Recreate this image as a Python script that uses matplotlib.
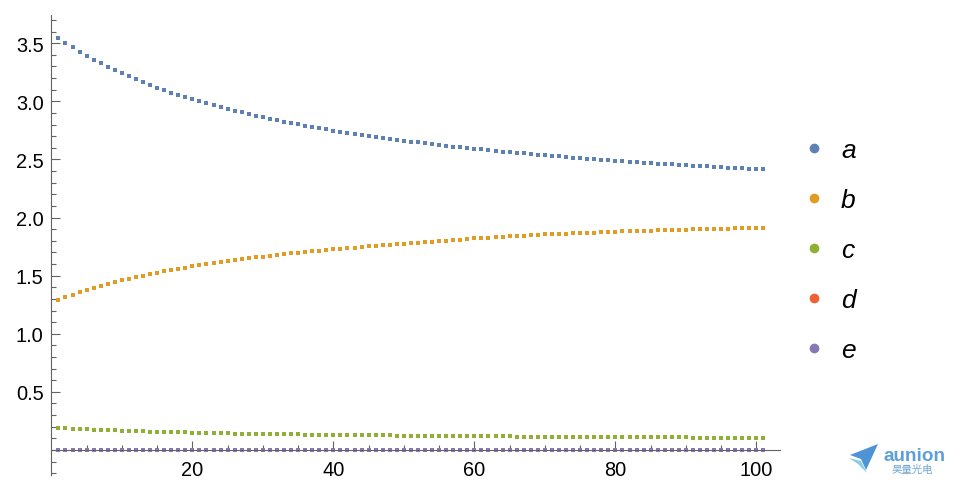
import numpy as np
import matplotlib
matplotlib.use("Agg")
import matplotlib.pyplot as plt
from matplotlib.lines import Line2D
from matplotlib.patches import Polygon

plt.rcParams['font.family'] = ['Liberation Sans', 'DejaVu Sans']

# data, one value per index 1..101
n = list(range(1, 102))

a = [3.548, 3.505, 3.471, 3.428, 3.394, 3.359, 3.333, 3.299, 3.273, 3.247,
     3.221, 3.196, 3.170, 3.144, 3.118, 3.101, 3.075, 3.058, 3.041, 3.024,
     3.006, 2.989, 2.972, 2.955, 2.935, 2.917, 2.909, 2.892, 2.874, 2.866,
     2.849, 2.840, 2.823, 2.814, 2.806, 2.788, 2.780, 2.771, 2.763, 2.745,
     2.737, 2.728, 2.719, 2.711, 2.702, 2.694, 2.685, 2.676, 2.668, 2.659,
     2.653, 2.653, 2.642, 2.633, 2.625, 2.616, 2.608, 2.608, 2.599, 2.590,
     2.590, 2.582, 2.573, 2.565, 2.565, 2.556, 2.556, 2.547, 2.539, 2.539,
     2.530, 2.530, 2.522, 2.513, 2.513, 2.507, 2.504, 2.496, 2.496, 2.487,
     2.487, 2.478, 2.478, 2.470, 2.470, 2.461, 2.461, 2.461, 2.453, 2.453,
     2.444, 2.444, 2.444, 2.435, 2.435, 2.427, 2.427, 2.427, 2.418, 2.418,
     2.418]

b = [1.294, 1.319, 1.336, 1.362, 1.379, 1.396, 1.414, 1.431, 1.448, 1.465,
     1.474, 1.491, 1.500, 1.517, 1.526, 1.543, 1.552, 1.560, 1.569, 1.586,
     1.594, 1.603, 1.612, 1.620, 1.629, 1.638, 1.647, 1.655, 1.664, 1.664,
     1.672, 1.681, 1.690, 1.698, 1.698, 1.707, 1.715, 1.715, 1.724, 1.733,
     1.733, 1.741, 1.741, 1.750, 1.759, 1.759, 1.767, 1.767, 1.776, 1.776,
     1.780, 1.784, 1.789, 1.793, 1.798, 1.802, 1.807, 1.811, 1.816, 1.820,
     1.824, 1.827, 1.831, 1.834, 1.838, 1.841, 1.845, 1.848, 1.852, 1.855,
     1.857, 1.860, 1.862, 1.864, 1.867, 1.869, 1.871, 1.873, 1.876, 1.878,
     1.880, 1.882, 1.884, 1.886, 1.888, 1.889, 1.891, 1.893, 1.895, 1.897,
     1.898, 1.900, 1.901, 1.903, 1.904, 1.905, 1.907, 1.908, 1.910, 1.911,
     1.912]

c = [0.192, 0.192, 0.184, 0.184, 0.184, 0.175, 0.175, 0.175, 0.175, 0.166,
     0.166, 0.166, 0.166, 0.158, 0.158, 0.158, 0.158, 0.158, 0.158, 0.150,
     0.150, 0.150, 0.150, 0.150, 0.150, 0.141, 0.141, 0.141, 0.141, 0.141,
     0.141, 0.141, 0.141, 0.141, 0.141, 0.132, 0.132, 0.132, 0.132, 0.132,
     0.132, 0.132, 0.132, 0.132, 0.132, 0.132, 0.132, 0.132, 0.124, 0.124,
     0.124, 0.124, 0.124, 0.124, 0.124, 0.124, 0.124, 0.124, 0.124, 0.124,
     0.124, 0.124, 0.124, 0.124, 0.124, 0.115, 0.115, 0.115, 0.115, 0.115,
     0.115, 0.115, 0.115, 0.115, 0.115, 0.115, 0.115, 0.115, 0.115, 0.115,
     0.115, 0.115, 0.115, 0.115, 0.115, 0.115, 0.115, 0.115, 0.115, 0.115,
     0.106, 0.106, 0.106, 0.106, 0.106, 0.106, 0.106, 0.106, 0.106, 0.106,
     0.106]

d = [0.0] * 101
e = [0.0] * 101

labels = ['a', 'b', 'c', 'd', 'e']
colors = ['#5E81B5', '#E19C24', '#8FB032', '#EB6235', '#8778B3']

fig = plt.figure(figsize=(9.58, 4.85), dpi=100)
ax = fig.add_axes([0.0536, 0.0192, 0.761, 0.948])

for ys, col in zip([a, b, c, d, e], colors):
    ax.plot(n, ys, ls='none', marker='s', ms=3.1, mew=0, color=col)

ax.set_xlim(0, 103.4)
ax.set_ylim(-0.213, 3.744)

axcol = '#636363'
for s in ['top', 'right']:
    ax.spines[s].set_visible(False)
ax.spines['bottom'].set_position(('data', 0))
ax.spines['left'].set_position(('data', 0))
for s in ['bottom', 'left']:
    ax.spines[s].set_color(axcol)
    ax.spines[s].set_linewidth(0.8)

ax.set_xticks([20, 40, 60, 80, 100])
ax.set_xticks([v for v in range(5, 101, 5) if v % 20 != 0], minor=True)
ax.set_yticks([0.5, 1.0, 1.5, 2.0, 2.5, 3.0, 3.5])
ax.set_yticklabels(['0.5', '1.0', '1.5', '2.0', '2.5', '3.0', '3.5'])
ax.set_yticks([round(-0.2 + 0.1 * i, 1) for i in range(40)
               if round(-0.2 + 0.1 * i, 1) not in (0.5, 1.0, 1.5, 2.0, 2.5, 3.0, 3.5)],
              minor=True)

ax.tick_params(which='both', direction='in', color=axcol, width=0.8, labelsize=14.4)
ax.tick_params(which='major', length=6.3)
ax.tick_params(which='minor', length=3.3)
ax.tick_params(axis='x', which='major', pad=7)
ax.tick_params(axis='y', which='major', pad=5.5)

# legend with round dots
handles = [Line2D([], [], ls='none', marker='o', ms=7, mew=0, color=col) for col in colors]
leg = fig.legend(handles, labels, loc='center left', bbox_to_anchor=(0.836, 0.4825),
                 frameon=False, fontsize=19, handlelength=1.0, handletextpad=0.52,
                 labelspacing=0.985, borderpad=0, borderaxespad=0)
for t in leg.get_texts():
    t.set_fontstyle('italic')

# logo in the lower right corner
def px(x, y):
    return (x / 958.0, 1 - y / 485.0)

fig.add_artist(Polygon([px(878, 445), px(850, 456), px(861, 460), px(866, 471)],
                       closed=True, transform=fig.transFigure, color='#4d93d6', lw=0))
fig.add_artist(Polygon([px(849, 459), px(861, 462), px(867, 474), px(858, 465)],
                       closed=True, transform=fig.transFigure, color='#86cdea', lw=0))
fig.text(883 / 958, 1 - 457 / 485, 'aunion', fontsize=13.6, fontweight='bold',
         color='#5f9fd8', va='center', ha='left')
fig.text(912 / 958, 1 - 469.5 / 485, '昊量光电', fontsize=7.5, color='#6fa6d6',
         va='center', ha='center', family=['Noto Sans CJK SC', 'DejaVu Sans'])

fig.savefig('out.png', dpi=100)
